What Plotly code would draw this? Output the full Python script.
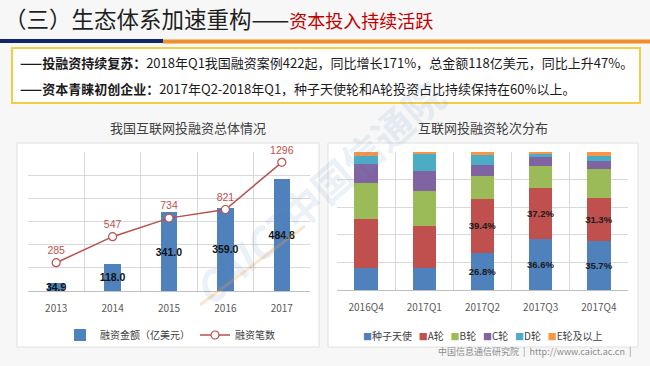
import plotly.graph_objects as go

# ---------------- data ----------------
years = ["2013", "2014", "2015", "2016", "2017"]
amount = [34.9, 118.0, 341.0, 359.0, 484.8]      # 融资金额（亿美元）
deals = [285, 547, 734, 821, 1296]               # 融资笔数

quarters = ["2016Q4", "2017Q1", "2017Q2", "2017Q3", "2017Q4"]
round_names = ["种子天使", "A轮", "B轮", "C轮", "D轮", "E轮及以上"]
seed = [16.0, 15.7, 26.8, 36.6, 35.7]
round_a = [35.3, 31.0, 39.4, 37.2, 31.3]
round_b = [26.5, 24.7, 16.6, 16.1, 20.7]
round_c = [13.3, 14.5, 7.8, 6.7, 6.0]
round_d = [6.2, 13.1, 7.2, 2.0, 3.4]
round_e = [2.7, 1.0, 2.2, 1.4, 2.9]
labeled_quarters = ["2017Q2", "2017Q3", "2017Q4"]
labeled_rounds = ["种子天使", "A轮"]

round_colors = ["#4F81BD", "#C0504D", "#9BBB59", "#8064A2", "#4BACC6", "#F79646"]

W, H = 650, 366
FONT = "Noto Sans CJK SC"
NUMFONT = "Liberation Sans"


def px(x):
    return x / W


def py(y):
    return 1 - y / H


fig = go.Figure()

# ---------------- left chart ----------------
fig.add_trace(go.Bar(
    x=years, y=amount, name="融资金额（亿美元）",
    xaxis="x", yaxis="y", legend="legend",
    width=0.29, marker=dict(color="#4F81BD", line=dict(width=0)),
    text=[f"<b>{v:.1f}</b>" for v in amount],
    textposition="inside", insidetextanchor="middle",
    constraintext="none", textangle=0,
    textfont=dict(size=10.5, color="#111111", family=NUMFONT),
))
fig.add_trace(go.Scatter(
    x=years, y=deals, name="融资笔数",
    xaxis="x", yaxis="y2", legend="legend",
    mode="lines+markers+text", cliponaxis=False,
    text=[str(v) for v in deals], textposition="top center",
    textfont=dict(size=10.5, color="#C0504D", family=NUMFONT),
    line=dict(color="#B9504D", width=1.5),
    marker=dict(symbol="circle", size=8, color="white",
                line=dict(color="#B9504D", width=1.2)),
))

# ---------------- right chart ----------------
series = [seed, round_a, round_b, round_c, round_d, round_e]
for name, vals, col in zip(round_names, series, round_colors):
    texts = [f"<b>{v:.1f}%</b>" if (q in labeled_quarters and name in labeled_rounds) else ""
             for q, v in zip(quarters, vals)]
    fig.add_trace(go.Bar(
        x=quarters, y=vals, name=name,
        xaxis="x2", yaxis="y3", showlegend=False,
        width=0.4, marker=dict(color=col, line=dict(width=0)),
        text=texts, textposition="inside", insidetextanchor="middle",
        constraintext="none", textangle=0,
        textfont=dict(size=9.5, color="#1a1a1a", family=NUMFONT),
    ))

grid = "#d9d9d9"
axis_common = dict(type="category", tickson="boundaries", showgrid=True,
                   gridcolor=grid, gridwidth=1, showline=True, linecolor="#bfbfbf",
                   ticks="", tickfont=dict(size=10, color="#595959", family=FONT),
                   ticklabelstandoff=8, fixedrange=True)

fig.update_layout(
    width=W, height=H,
    margin=dict(l=0, r=0, t=0, b=0),
    paper_bgcolor="#f7f7f7",
    plot_bgcolor="#f1f1f1",
    barmode="stack",
    font=dict(family=FONT, color="#404040"),
    xaxis=dict(domain=[px(28), px(310)], anchor="y", **axis_common),
    yaxis=dict(domain=[py(291), py(152)], range=[0, 600], dtick=100,
               showticklabels=False, gridcolor=grid, zeroline=False, fixedrange=True),
    yaxis2=dict(overlaying="y", anchor="x", range=[0, 1400], visible=False),
    xaxis2=dict(domain=[px(337), px(628)], anchor="y3", **axis_common),
    yaxis3=dict(domain=[py(290), py(152)], range=[0, 100], dtick=20,
                showticklabels=False, gridcolor=grid, zeroline=False, fixedrange=True),
    legend=dict(orientation="h", x=px(170), xanchor="center", y=py(335), yanchor="middle",
                traceorder="normal",
                font=dict(size=10, color="#404040", family=FONT),
                bgcolor="rgba(0,0,0,0)", itemwidth=30),
    showlegend=True,
)

# ---------------- decoration shapes ----------------
shapes = [
    dict(type="rect", xref="paper", yref="paper", x0=0, x1=px(163), y0=py(43), y1=py(39),
         fillcolor="#10286A", line=dict(width=0), layer="below"),
    dict(type="rect", xref="paper", yref="paper", x0=px(163), x1=1, y0=py(43.5), y1=py(39.5),
         fillcolor="#EF8E2A", line=dict(width=0), layer="below"),
    dict(type="rect", xref="paper", yref="paper", x0=px(12), x1=px(640), y0=py(103), y1=py(48),
         fillcolor="white", line=dict(color="#F2CE46", width=2), layer="below"),
    dict(type="rect", xref="paper", yref="paper", x0=px(17), x1=px(319), y0=py(347), y1=py(143),
         fillcolor="white", line=dict(color="#e0e0e0", width=1), layer="below"),
    dict(type="rect", xref="paper", yref="paper", x0=px(328), x1=px(638), y0=py(347), y1=py(143),
         fillcolor="white", line=dict(color="#e0e0e0", width=1), layer="below"),
    # watermark accent stroke
    dict(type="line", xref="paper", yref="paper", x0=px(200), y0=py(305), x1=px(305), y1=py(226),
         line=dict(color="rgba(247,160,70,0.28)", width=3)),
]
fig.update_layout(shapes=shapes)

# ---------------- texts ----------------
ann = []
ann.append(dict(xref="paper", yref="paper", x=px(2), y=py(18), xanchor="left", yanchor="middle",
                showarrow=False,
                text="（三）生态体系加速重构——<span style='color:#C00000;font-size:18px'>资本投入持续活跃</span>",
                font=dict(size=22.5, color="#1f1f1f", family=FONT)))
ann.append(dict(xref="paper", yref="paper", x=px(18), y=py(63), xanchor="left", yanchor="middle",
                showarrow=False,
                text="<b>——投融资持续复苏：</b>2018年Q1我国融资案例422起，同比增长171%，总金额118亿美元，同比上升47%。",
                font=dict(size=13, color="#1a1a1a", family=FONT)))
ann.append(dict(xref="paper", yref="paper", x=px(18), y=py(88), xanchor="left", yanchor="middle",
                showarrow=False,
                text="<b>——资本青睐初创企业：</b>2017年Q2-2018年Q1，种子天使轮和A轮投资占比持续保持在60%以上。",
                font=dict(size=13, color="#1a1a1a", family=FONT)))
ann.append(dict(xref="paper", yref="paper", x=px(188), y=py(127), xanchor="center", yanchor="middle",
                showarrow=False, text="我国互联网投融资总体情况",
                font=dict(size=13, color="#404040", family=FONT)))
ann.append(dict(xref="paper", yref="paper", x=px(483), y=py(127), xanchor="center", yanchor="middle",
                showarrow=False, text="互联网投融资轮次分布",
                font=dict(size=13, color="#404040", family=FONT)))
# legend of the round-distribution chart, built from the series names / colours
legend2_text = "&nbsp;&nbsp;&nbsp;".join(
    f"<span style='color:{c};font-size:9px'>■</span>{n}" for n, c in zip(round_names, round_colors))
ann.append(dict(xref="paper", yref="paper", x=px(483), y=py(335), xanchor="center", yanchor="middle",
                showarrow=False, text=legend2_text,
                font=dict(size=10, color="#404040", family=FONT)))
ann.append(dict(xref="paper", yref="paper", x=px(633), y=py(351), xanchor="right", yanchor="middle",
                showarrow=False, text="中国信息通信研究院  |  http://www.caict.ac.cn  |",
                font=dict(size=9, color="#8c8c8c", family=FONT)))
# watermark
ann.append(dict(xref="paper", yref="paper", x=px(318), y=py(192), xanchor="center", yanchor="middle",
                showarrow=False, textangle=-41,
                text="<b><i>CAICT</i></b><b>中国信通院</b>",
                font=dict(size=40, color="rgba(110,140,195,0.15)", family=FONT)))
fig.update_layout(annotations=ann)

fig.write_html("out.html", config={"displayModeBar": False},
               post_script="document.body.style.margin='0px';")
